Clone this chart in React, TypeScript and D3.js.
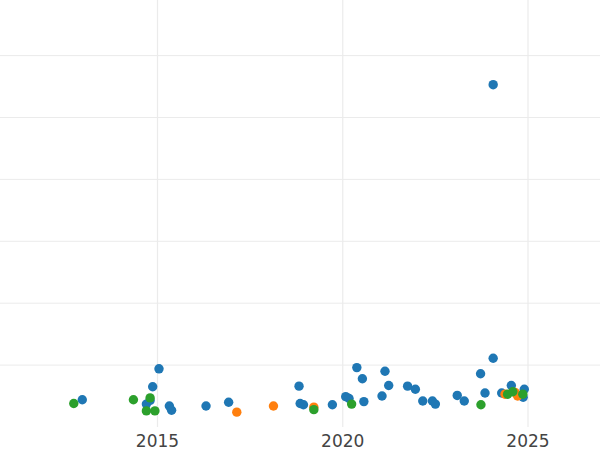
import React from "react";
import * as d3 from "d3";

const blueX = [2012.97, 2015.04, 2014.87, 2014.7, 2014.8, 2015.32, 2015.38, 2016.31, 2016.92, 2018.82, 2018.85, 2018.94, 2019.72, 2020.08, 2020.17, 2020.38, 2020.53, 2020.57, 2021.06, 2021.14, 2021.24, 2021.75, 2021.96, 2022.16, 2022.42, 2022.5, 2023.09, 2023.28, 2023.72, 2023.84, 2024.06, 2024.06, 2024.29, 2024.55, 2024.9, 2024.87];
const blueY = [0.44, 0.94, 0.65, 0.37, 0.43, 0.34, 0.27, 0.34, 0.4, 0.66, 0.38, 0.36, 0.36, 0.49, 0.46, 0.96, 0.78, 0.41, 0.5, 0.9, 0.67, 0.66, 0.61, 0.42, 0.42, 0.37, 0.51, 0.42, 0.86, 0.55, 1.11, 5.53, 0.55, 0.67, 0.61, 0.48];
const orangeX = [2017.14, 2018.13, 2019.22, 2024.38, 2024.65, 2024.72];
const orangeY = [0.24, 0.34, 0.32, 0.53, 0.56, 0.5];
const greenX = [2012.74, 2014.35, 2014.8, 2014.7, 2014.93, 2019.22, 2020.24, 2023.73, 2024.45, 2024.59, 2024.86];
const greenY = [0.38, 0.44, 0.47, 0.26, 0.26, 0.28, 0.37, 0.36, 0.53, 0.57, 0.53];

const xTicks = [2015, 2020, 2025];
const yGrid = [1, 2, 3, 4, 5, 6];

const series = [
  { xs: blueX, ys: blueY, color: "#1f77b4" },
  { xs: orangeX, ys: orangeY, color: "#ff7f0e" },
  { xs: greenX, ys: greenY, color: "#2ca02c" },
];

export default function App() {
  const W = 600;
  const H = 450;
  const plotBottom = 427;
  const x = d3.scaleLinear().domain([2015, 2025]).range([157.5, 528]);
  const y = d3.scaleLinear().domain([0, 6]).range([plotBottom, 55.6]);
  return (
    <svg
      width={W}
      height={H}
      style={{ position: "absolute", left: 0, top: 0, background: "#fff" }}
    >
      <g>
        {yGrid.map((v) => (
          <line key={"h" + v} x1={0} x2={W} y1={y(v)} y2={y(v)} stroke="#ebebeb" strokeWidth={1} />
        ))}
        {xTicks.map((t) => (
          <line key={"v" + t} x1={x(t)} x2={x(t)} y1={0} y2={plotBottom} stroke="#ebebeb" strokeWidth={1.2} />
        ))}
      </g>
      {series.map((s, si) => (
        <g key={si}>
          {s.xs.map((xv, i) => (
            <circle key={i} cx={x(xv)} cy={y(s.ys[i])} r={4.7} fill={s.color} />
          ))}
        </g>
      ))}
      {xTicks.map((t) => (
        <text
          key={"t" + t}
          x={x(t)}
          y={447}
          textAnchor="middle"
          fontFamily="DejaVu Sans, sans-serif"
          fontSize={17}
          fill="#444"
        >
          {t}
        </text>
      ))}
    </svg>
  );
}
